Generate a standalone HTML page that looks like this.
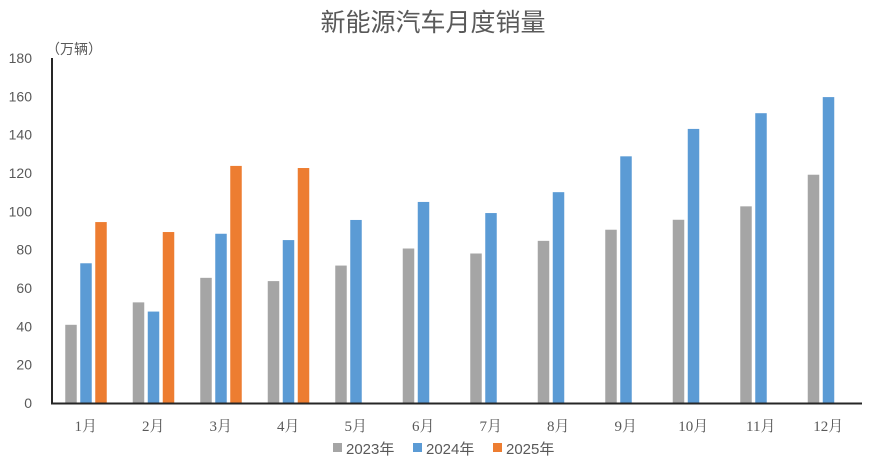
<!DOCTYPE html>
<html><head><meta charset="utf-8"><style>
html,body{margin:0;padding:0;background:#fff;}
svg{display:block;}
</style></head><body>
<svg width="870" height="466" viewBox="0 0 870 466" xmlns="http://www.w3.org/2000/svg">
<rect width="870" height="466" fill="#fff"/>
<text x="433" y="31" text-anchor="middle" font-family="Liberation Sans, Noto Sans CJK SC, sans-serif" font-size="25" fill="#595959">新能源汽车月度销量</text>
<text x="46" y="54" font-family="Liberation Sans, Noto Sans CJK SC, sans-serif" font-size="14" fill="#595959">（万辆）</text>
<g font-family="Liberation Sans, sans-serif" font-size="14" fill="#595959" text-anchor="end">
<text x="32" y="408">0</text>
<text x="32" y="369.7">20</text>
<text x="32" y="331.3">40</text>
<text x="32" y="293">60</text>
<text x="32" y="254.7">80</text>
<text x="32" y="216.3">100</text>
<text x="32" y="178">120</text>
<text x="32" y="139.7">140</text>
<text x="32" y="101.3">160</text>
<text x="32" y="63">180</text>
</g>
<g id="bars"></g>
<line x1="52" y1="58" x2="52" y2="404" stroke="#262626" stroke-width="2"/>
<line x1="51" y1="403.5" x2="862" y2="403.5" stroke="#262626" stroke-width="2"/>
<g font-family="Liberation Serif, Noto Serif CJK SC, serif" font-size="15" fill="#595959" text-anchor="middle" id="months"></g>
<g font-family="Liberation Sans, Noto Sans CJK SC, sans-serif" font-size="15" fill="#595959">
<rect x="333" y="443" width="9" height="9" fill="#A5A5A5"/>
<text x="346" y="454">2023年</text>
<rect x="413" y="443" width="9" height="9" fill="#5B9BD5"/>
<text x="426" y="454">2024年</text>
<rect x="493" y="443" width="9" height="9" fill="#ED7D31"/>
<text x="506" y="454">2025年</text>
</g>
<script>
(function(){
var d23=[40.8,52.5,65.3,63.6,71.7,80.6,78.0,84.6,90.4,95.6,102.6,119.1];
var d24=[72.9,47.7,88.3,85.0,95.5,104.9,99.1,110.0,128.7,143.0,151.2,159.6];
var d25=[94.4,89.2,123.7,122.6];
var ns="http://www.w3.org/2000/svg";
var g=document.getElementById("bars");
var m=document.getElementById("months");
var y0=403, k=345/180;
function bar(x,v,c){var r=document.createElementNS(ns,"rect");var h=v*k;r.setAttribute("x",x);r.setAttribute("y",y0-h);r.setAttribute("width",11.5);r.setAttribute("height",h);r.setAttribute("fill",c);g.appendChild(r);}
for(var i=0;i<12;i++){
 var c=52+67.5*(i+0.5);
 bar(c-20.5,d23[i],"#A5A5A5");
 bar(c-5.5,d24[i],"#5B9BD5");
 if(i<4) bar(c+9.5,d25[i],"#ED7D31");
 var t=document.createElementNS(ns,"text");t.setAttribute("x",c);t.setAttribute("y",431);t.textContent=(i+1)+"月";m.appendChild(t);
}
})();
</script>
</svg>
</body></html>
